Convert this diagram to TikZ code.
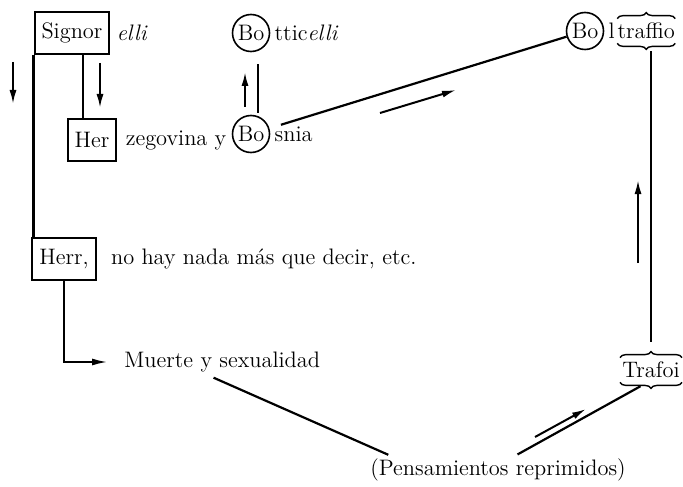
\documentclass[tikz,border=0pt]{standalone}
\usepackage{tikz}
\usetikzlibrary{positioning,arrows.meta,decorations.pathreplacing}

\begin{document}
\begin{tikzpicture}[x=0.5pt,y=-0.5pt,
                    every node/.style={inner sep=1pt,font=\fontsize{11.2}{13}\selectfont},
                    namebox/.style={draw,line width=1pt,inner xsep=3.5pt,minimum height=21pt},
                    bocirc/.style={draw,circle,line width=0.8pt,inner sep=0.5pt,minimum size=18.5pt},
                    wire/.style={line width=1.1pt},
                    hint/.style={line width=1pt,-{Latex[length=7pt,width=3.5pt]}},
                    bracetop/.style={decorate,decoration={brace,amplitude=3pt},line width=0.7pt},
                    node distance=0pt]

    \useasboundingbox (0,0) rectangle (683,486);

    % names
    \node[namebox] (signor) at (72,33) {Signor};
    \node[right=2pt of signor] (elli) {\textit{elli}};
    \node[bocirc] (botti) at (251,33) {Bo};
    \node[right=1pt of botti] (tticelli) {ttic\textit{elli}};
    \node[namebox] (her) at (92,140) {Her};
    \node[right=3pt of her] (zego) {zegovina y};
    \node[bocirc] (bosnia) at (251,134) {Bo};
    \node[right=1pt of bosnia] (snia) {snia};
    \node[bocirc] (bolt) at (585,31) {Bo};
    \node[right=1pt of bolt] (ele) {l};
    \node[right=0pt of ele,inner xsep=0pt] (traffio) {traffio};
    \node[namebox] (herr) at (64,259) {Herr,};
    \node[right=6pt of herr] (nohay) {no hay nada más que decir, etc.};
    \node[anchor=west] (muerte) at (122,362) {Muerte y sexualidad};
    \node (trafoi) at (651,370) {Trafoi};
    \node (pens) at (498,470) {(Pensamientos reprimidos)};

    % braces
    \draw[bracetop] ([yshift=1pt]traffio.north west) -- ([yshift=1pt]traffio.north east);
    \draw[bracetop] ([yshift=-1pt]traffio.south east) -- ([yshift=-1pt]traffio.south west);
    \draw[bracetop] ([yshift=1pt]trafoi.north west) -- ([yshift=1pt]trafoi.north east);
    \draw[bracetop] ([yshift=-1pt]trafoi.south east) -- ([yshift=-1pt]trafoi.south west);

    % connectors
    \coordinate (hx) at (83,0);
    \draw[wire] (signor.south west) -- (signor.south west |- herr.north);
    \draw[wire] (signor.south -| hx) -- (her.north -| hx);
    \draw[wire,shorten <=6pt,shorten >=1pt] ([xshift=3.5pt]botti.south) -- ([xshift=3.5pt]bosnia.north);
    \draw[wire,shorten <=6pt] (bosnia) -- (bolt);
    \draw[wire,shorten <=9pt,shorten >=5pt] (trafoi.north) -- (trafoi.north |- traffio.south);
    \draw[wire,-{Latex[length=8pt,width=3.5pt]},shorten >=7pt] (herr.south) |- (muerte.west);
    \draw[wire,shorten <=4pt,shorten >=2pt] ([xshift=-8pt]muerte.south) -- ([xshift=12pt]pens.north west);
    \draw[wire,shorten <=6pt,shorten >=2pt] (trafoi.south) -- ([xshift=8pt]pens.north);

    % direction arrows
    \coordinate (a1) at (13,62);   \coordinate (b1) at (13,104);
    \coordinate (a2) at (100,63);  \coordinate (b2) at (100,108);
    \coordinate (a3) at (245,107); \coordinate (b3) at (245,72);
    \coordinate (a4) at (380,113); \coordinate (b4) at (456,90);
    \coordinate (a5) at (638,263); \coordinate (b5) at (638,180);
    \coordinate (a6) at (535,437); \coordinate (b6) at (586,409);
    \foreach \s/\e in {a1/b1,a2/b2,a3/b3,a4/b4,a5/b5,a6/b6}
        \draw[hint] (\s) -- (\e);
\end{tikzpicture}
\end{document}
